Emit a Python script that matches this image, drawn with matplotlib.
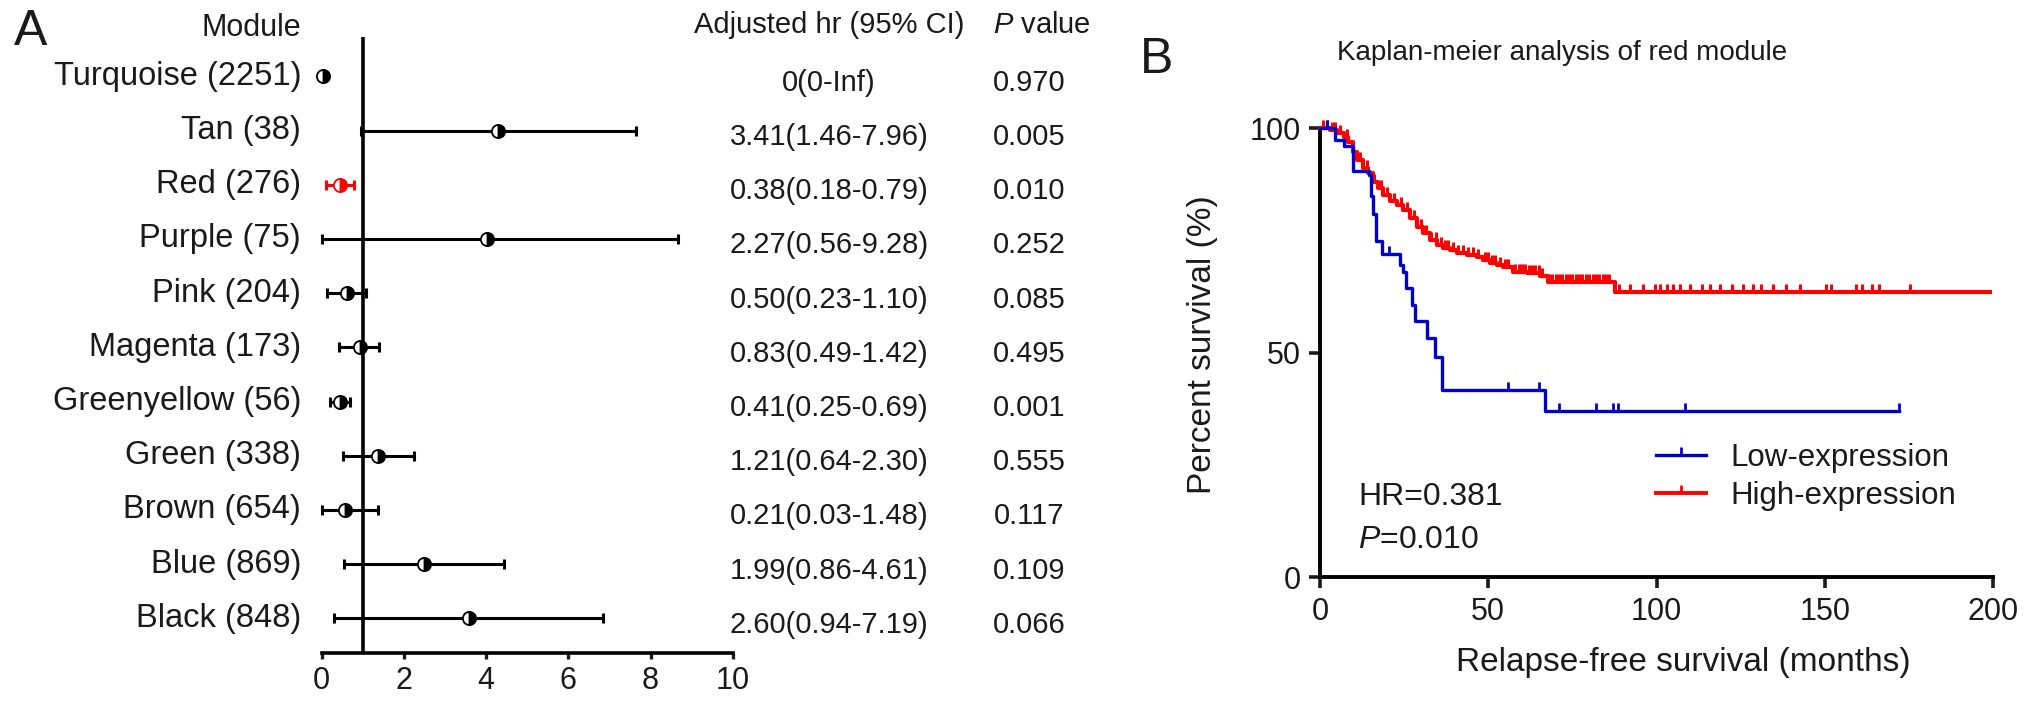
import matplotlib
matplotlib.use("Agg")
import matplotlib.pyplot as plt
import matplotlib.transforms as mtransforms
from matplotlib.lines import Line2D
import numpy as np

plt.rcParams['font.family'] = ['Liberation Sans', 'DejaVu Sans']
plt.rcParams['mathtext.fontset'] = 'custom'
plt.rcParams['mathtext.rm'] = 'Liberation Sans'
plt.rcParams['mathtext.it'] = 'Liberation Sans:italic'

# ---- panel A data (positions) ----
modules = ['Turquoise (2251)', 'Tan (38)', 'Red (276)', 'Purple (75)', 'Pink (204)',
           'Magenta (173)', 'Greenyellow (56)', 'Green (338)', 'Brown (654)',
           'Blue (869)', 'Black (848)']
hr_pos = [0.02, 4.28, 0.45, 4.03, 0.61, 0.92, 0.45, 1.38, 0.57, 2.49, 3.59]
ci_low = [np.nan, 0.96, 0.10, 0.0, 0.14, 0.42, 0.20, 0.53, 0.0, 0.55, 0.31]
ci_high = [np.nan, 7.64, 0.79, 8.68, 1.07, 1.40, 0.69, 2.25, 1.36, 4.44, 6.84]
hr_text = ['0(0-Inf)', '3.41(1.46-7.96)', '0.38(0.18-0.79)', '2.27(0.56-9.28)',
           '0.50(0.23-1.10)', '0.83(0.49-1.42)', '0.41(0.25-0.69)', '1.21(0.64-2.30)',
           '0.21(0.03-1.48)', '1.99(0.86-4.61)', '2.60(0.94-7.19)']
p_text = ['0.970', '0.005', '0.010', '0.252', '0.085', '0.495', '0.001', '0.555',
          '0.117', '0.109', '0.066']
highlight = 'Red (276)'

# ---- panel B data (Kaplan-Meier steps) ----
t_low = [0, 4.5, 7, 9.7, 14.5, 15.2, 15.8, 16.6, 18.3, 23.8, 24.8, 25.7, 27.2,
         28.2, 31.7, 34.2, 36.2, 66.8, 172]
s_low = [100, 97.5, 96, 90.5, 89.5, 85, 81, 75, 72, 69.6, 68, 64.4, 60.6,
         57, 53.2, 49.1, 41.7, 37, 37]
cens_low = [2, 20.5, 56, 65, 71, 82, 87, 88.5, 108.5, 172]

t_high = [0, 3, 5, 7, 8.4, 9.9, 10.9, 12.9, 14.4, 15.8, 17.3, 18.8, 20.8, 22.8,
          24.8, 26.7, 28.7, 30.7, 32.7, 34.7, 36.6, 38.6, 40.6, 43.6, 46.6, 48.5,
          50.5, 52.5, 54.5, 57.4, 61.4, 65.4, 67.8, 87.6, 199]
s_high = [100, 99.6, 98.9, 98.1, 97.0, 94.8, 92.9, 91.1, 90.0, 88.1, 86.6, 85.1,
          83.7, 82.9, 81.8, 80.0, 78.1, 76.6, 75.1, 74.0, 73.3, 72.9, 72.3, 71.8,
          71.4, 70.7, 70.0, 69.6, 69.0, 68.1, 67.7, 67.2, 65.8, 63.6, 63.6]
cens_high = [1, 2, 3.5, 4.5, 6, 8, 11, 12, 14, 16, 18, 20, 22, 24, 26, 28, 30,
             31.5, 33, 34.5, 36, 37, 38, 39.5, 41, 42.5, 44, 45.5, 47, 49, 50,
             51, 52, 53.5, 55, 56, 58, 59, 60, 61, 62, 63, 64, 65, 66, 68, 69, 70,
             71, 72, 73, 74, 75, 76, 77, 78, 79, 80, 81, 82, 83, 84, 85, 86, 89,
             92, 96, 99.5, 101, 103, 105, 107, 110, 113.4, 116, 118.8, 122.3,
             125.8, 128.7, 131.2, 134.7, 138.6, 142.6, 150.5, 152, 159.4, 161,
             164, 166, 175.3]

W, H = 2032, 703
fig = plt.figure(figsize=(W / 100, H / 100), dpi=100)
txt = '#1a1a1a'


def fx(px):
    return px / W


def fy(py):
    return 1 - py / H


# ================= panel A =================
ax1 = fig.add_axes([fx(321.7), fy(653.3), fx(411), (653.3 - 37.3) / H])
n = len(modules)
ax1.set_xlim(0, 10)
ax1.set_ylim(10.645, -0.72)
ax1.axvline(1, color='black', lw=2.6, zorder=1)

for i in range(n):
    col = 'red' if modules[i] == highlight else 'black'
    if not np.isnan(ci_low[i]):
        ax1.errorbar(hr_pos[i], i,
                     xerr=[[hr_pos[i] - ci_low[i]], [ci_high[i] - hr_pos[i]]],
                     fmt='none', ecolor=col, elinewidth=2.2, capsize=3.5,
                     capthick=2.2, zorder=2, clip_on=False)
    ax1.plot(hr_pos[i], i, marker='o', ms=9.5, fillstyle='right',
             markerfacecolor=col, markerfacecoloralt='white',
             markeredgecolor=col, mew=1.3, zorder=3, clip_on=False)

for s in ['top', 'right', 'left']:
    ax1.spines[s].set_visible(False)
ax1.spines['bottom'].set_linewidth(2.6)
ax1.set_yticks([])
ax1.set_xticks([0, 2, 4, 6, 8, 10])
ax1.tick_params(axis='x', labelsize=22, width=2.4, length=4, pad=5, colors=txt)

tr = mtransforms.blended_transform_factory(fig.transFigure, ax1.transData)
for i in range(n):
    fig.text(fx(301), i, modules[i], transform=tr, ha='right', va='center',
             fontsize=23.5, color=txt)
    fig.text(fx(829), i + 0.12, hr_text[i], transform=tr, ha='center',
             va='center', fontsize=21, color=txt)
    fig.text(fx(1029), i + 0.12, p_text[i], transform=tr, ha='center',
             va='center', fontsize=21, color=txt)

fig.text(fx(301), fy(28), 'Module', ha='right', va='center', fontsize=22, color=txt)
fig.text(fx(829), fy(25), 'Adjusted hr (95% CI)', ha='center', va='center',
         fontsize=21, color=txt)
fig.text(fx(993), fy(25), '$P$ value', ha='left', va='center', fontsize=21, color=txt)
fig.text(fx(14), fy(32), 'A', ha='left', va='center', fontsize=36, color=txt)

# ================= panel B =================
ax2 = fig.add_axes([fx(1320), fy(577.3), fx(673), 449 / H])
ax2.set_xlim(0, 200)
ax2.set_ylim(0, 100)


def surv_at(times, tt, ss):
    idx = np.searchsorted(tt, times, side='right') - 1
    return np.asarray(ss)[idx]


ax2.step(t_high, s_high, where='post', color='#ff0000', lw=3.0, zorder=3,
         clip_on=False)
ax2.plot(cens_high, surv_at(cens_high, t_high, s_high), ls='none', marker=2,
         ms=6, mew=2.2, color='#ff0000', zorder=3, clip_on=False)
ax2.step(t_low, s_low, where='post', color='#0000cc', lw=2.4, zorder=4,
         clip_on=False)
ax2.plot(cens_low, surv_at(cens_low, t_low, s_low), ls='none', marker=2,
         ms=6, mew=2, color='#0000cc', zorder=4, clip_on=False)

for s in ['top', 'right']:
    ax2.spines[s].set_visible(False)
for s in ['left', 'bottom']:
    ax2.spines[s].set_linewidth(2.8)
ax2.set_xticks([0, 50, 100, 150, 200])
ax2.set_yticks([0, 50, 100])
ax2.tick_params(labelsize=22, width=2.6, length=8, pad=6, colors=txt)

fig.text(fx(1202), fy(345), 'Percent survival (%)', rotation=90, ha='center',
         va='center', fontsize=24, color=txt)
fig.text(fx(1683), fy(663), 'Relapse-free survival (months)', ha='center',
         va='center', fontsize=24, color=txt)
fig.text(fx(1337), fy(53), 'Kaplan-meier analysis of red module', ha='left',
         va='center', fontsize=20, color=txt)
fig.text(fx(1140), fy(60), 'B', ha='left', va='center', fontsize=36, color=txt)

ax2.text(11.3, 17.9, 'HR=0.381', ha='left', va='center', fontsize=23, color=txt)
ax2.text(11.3, 8.3, '$P$=0.010', ha='left', va='center', fontsize=23, color=txt)

handles = [Line2D([], [], color='#0000cc', lw=2.4, marker=2, ms=6, mew=2),
           Line2D([], [], color='#ff0000', lw=2.8, marker=2, ms=6, mew=2)]
ax2.legend(handles, ['Low-expression', 'High-expression'], loc='upper left',
           bbox_to_anchor=(0.457, 0.362), frameon=False, fontsize=22.5,
           handlelength=1.6, handletextpad=0.8, labelspacing=0.25,
           numpoints=1, labelcolor=txt)

fig.savefig('out.png', dpi=100)
